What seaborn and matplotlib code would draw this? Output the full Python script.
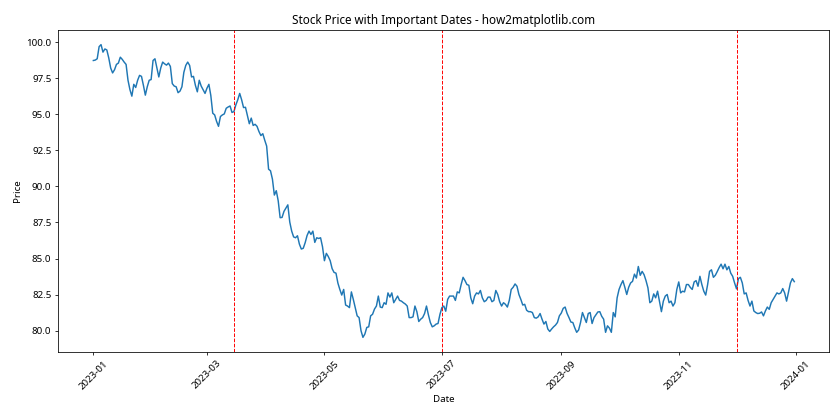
import matplotlib
matplotlib.use("Agg")
import matplotlib.pyplot as plt
import seaborn as sns
import pandas as pd

start_date = "2023-01-01"

# Daily closing prices (Jan-Mar, Apr-Jun, Jul-Sep, Oct-Dec)
q1_prices = [
    98.72, 98.75, 98.84, 99.68, 99.82, 99.30, 99.52, 99.45, 98.90, 98.20,
    97.86, 98.08, 98.45, 98.54, 98.95, 98.80, 98.61, 98.45, 97.35, 96.70,
    96.25, 97.07, 96.85, 97.35, 97.69, 97.62, 97.00, 96.32, 96.90, 97.35,
    97.40, 98.72, 98.84, 98.20, 97.58, 98.20, 98.61, 98.49, 98.40, 98.54,
    98.31, 97.12, 96.95, 96.90, 96.49, 96.60, 96.90, 97.90, 98.38, 98.61,
    98.38, 97.58, 97.62, 97.00, 96.55, 97.35, 96.95, 96.70, 96.44, 96.80,
    97.07, 96.30, 95.07, 94.95, 94.50, 94.16, 94.84, 94.95, 95.02, 95.41,
    95.50, 95.57, 95.12, 95.18, 95.64, 96.00, 96.44, 96.00, 95.46, 95.48,
    94.90, 94.34, 94.73, 94.22, 94.30, 94.16, 93.80, 93.52, 93.65, 93.20,
]
q2_prices = [
    92.79, 91.19, 91.08, 90.50, 89.40, 89.70, 89.00, 87.83, 87.85, 88.27,
    88.50, 88.72, 87.53, 86.90, 86.50, 86.44, 86.58, 86.00, 85.66, 85.71,
    86.10, 86.60, 86.90, 86.67, 86.90, 86.12, 86.44, 86.39, 86.44, 85.82,
    84.85, 85.36, 85.14, 84.85, 84.30, 84.04, 83.99, 83.30, 82.86, 82.47,
    82.86, 81.78, 81.71, 81.60, 82.69, 82.17, 81.60, 81.03, 80.91, 80.00,
    79.54, 79.77, 80.23, 80.27, 81.03, 81.14, 81.50, 81.71, 82.40, 81.64,
    81.60, 81.94, 81.83, 82.62, 82.33, 82.62, 81.94, 82.17, 82.40, 82.10,
    82.05, 81.94, 81.85, 81.71, 80.91, 80.91, 80.96, 81.71, 81.32, 80.64,
    80.80, 80.91, 81.19, 81.71, 81.10, 80.57, 80.27, 80.34, 80.46, 80.50,
    81.14,
]
q3_prices = [
    81.60, 81.71, 81.35, 82.17, 82.40, 82.40, 82.40, 82.10, 82.69, 82.62,
    83.20, 83.70, 83.47, 83.20, 83.15, 82.28, 81.87, 82.40, 82.62, 82.55,
    82.79, 82.28, 82.01, 82.10, 82.33, 82.33, 82.01, 82.10, 82.79, 82.51,
    82.01, 81.71, 81.94, 81.83, 81.64, 82.10, 82.86, 83.01, 83.24, 83.08,
    82.51, 82.17, 81.78, 81.83, 81.42, 81.32, 81.32, 81.26, 80.91, 80.87,
    80.96, 81.19, 80.80, 80.46, 80.64, 80.12, 79.95, 80.12, 80.27, 80.39,
    80.57, 81.03, 81.22, 81.55, 81.64, 81.20, 80.91, 80.60, 80.57, 80.20,
    79.89, 80.05, 80.57, 81.26, 80.91, 80.57, 81.19, 81.26, 80.50, 80.91,
    81.10, 81.30, 81.32, 81.00, 80.80, 79.89, 80.34, 80.18, 79.89, 81.26,
    80.96, 82.28,
]
q4_prices = [
    82.86, 83.20, 83.47, 83.01, 82.51, 83.01, 83.31, 83.42, 83.92, 83.65,
    84.45, 83.84, 84.11, 83.88, 83.47, 82.97, 81.94, 82.05, 82.55, 82.28,
    82.74, 82.05, 81.32, 82.05, 82.40, 82.51, 81.94, 82.05, 81.71, 81.94,
    82.86, 83.38, 82.62, 82.74, 82.69, 83.20, 83.20, 83.00, 82.86, 83.38,
    83.47, 83.08, 83.77, 83.20, 82.74, 82.47, 83.20, 84.11, 84.22, 83.70,
    83.84, 84.10, 84.38, 84.61, 84.29, 84.61, 84.22, 84.45, 83.99, 83.77,
    83.31, 82.90, 83.61, 83.70, 83.31, 82.55, 82.62, 82.10, 81.71, 82.05,
    81.37, 81.26, 81.19, 81.21, 81.30, 81.03, 81.37, 81.64, 81.48, 81.94,
    82.17, 82.40, 82.62, 82.55, 82.62, 82.92, 82.62, 82.05, 82.69, 83.31,
    83.61, 83.40,
]
important_dates = ["2023-03-15", "2023-07-01", "2023-12-01"]

prices = q1_prices + q2_prices + q3_prices + q4_prices
dates = pd.date_range(start_date, periods=len(prices), freq="D")
df = pd.DataFrame({"Date": dates, "Price": prices})

plt.rcParams["font.family"] = ["Noto Sans", "DejaVu Sans"]

fig, ax = plt.subplots(figsize=(12, 6), dpi=70)
sns.lineplot(data=df, x="Date", y="Price", ax=ax, color="#1f77b4", linewidth=1.5)
for d in important_dates:
    ax.axvline(pd.Timestamp(d), color="red", linestyle="--", linewidth=1)

ax.set_title("Stock Price with Important Dates - how2matplotlib.com", fontsize=12)
ax.set_xlabel("Date", fontsize=10)
ax.set_ylabel("Price", fontsize=10)
ax.tick_params(axis="x", labelrotation=45)
ax.tick_params(labelsize=10)

fig.subplots_adjust(left=0.0694, right=0.9873, top=0.9286, bottom=0.1619)
fig.savefig("out.png", dpi=70)
